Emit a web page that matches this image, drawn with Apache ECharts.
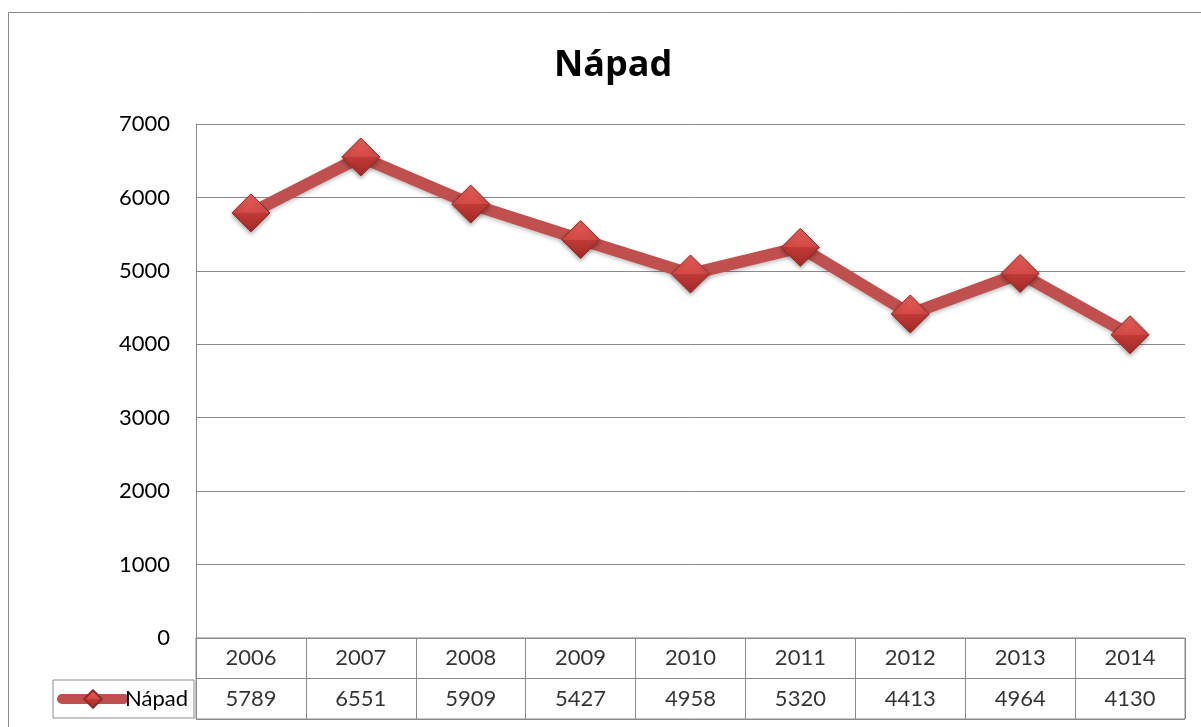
<!DOCTYPE html>
<html>
<head>
<meta charset="utf-8">
<script src="https://cdn.jsdelivr.net/npm/echarts@6/dist/echarts.min.js"></script>
<style>
  html, body { margin: 0; padding: 0; background: #fff; }
  #main { width: 1201px; height: 727px; }
</style>
</head>
<body>
<div id="main"></div>
<script>
// data
const years = ['2006', '2007', '2008', '2009', '2010', '2011', '2012', '2013', '2014'];
const napad = [5789, 6551, 5909, 5427, 4958, 5320, 4413, 4964, 4130];
const yTicks = [0, 1000, 2000, 3000, 4000, 5000, 6000, 7000];

const chart = echarts.init(document.getElementById('main'));
const FONT = 'Lato, "Open Sans", sans-serif';
const GRID_C = '#8a8a8a';

// diamond fill like the excel 3d marker
const diamondFill = new echarts.graphic.LinearGradient(0, 0, 0, 1, [
  { offset: 0, color: '#ea5f5a' },
  { offset: 0.5, color: '#d24a45' },
  { offset: 0.5, color: '#c03a36' },
  { offset: 1, color: '#a32a27' }
]);

const option = {
  backgroundColor: '#ffffff',
  animation: false,
  title: {
    text: 'Nápad',
    left: 549,
    top: 43,
    textStyle: { fontFamily: '"Open Sans", sans-serif', fontWeight: 'bold', fontSize: 36, color: '#000' }
  },
  legend: {
    data: ['Nápad'],
    left: 53,
    top: 680,
    orient: 'horizontal',
    borderColor: GRID_C,
    borderWidth: 1,
    padding: [8, 6, 8, 4],
    itemWidth: 62,
    itemHeight: 22,
    itemGap: 0,
    lineStyle: { width: 10, cap: 'round', color: '#c0504d' },
    textStyle: { fontFamily: FONT, fontSize: 22, color: '#000', padding: [0, 0, 0, -4] }
  },
  grid: [
    { left: 196, right: 16, top: 124, bottom: 89 },
    { left: 196, right: 16, top: 638, height: 81, show: true, borderColor: GRID_C, borderWidth: 1 }
  ],
  xAxis: [
    {
      gridIndex: 0,
      type: 'category',
      data: years,
      boundaryGap: true,
      axisLine: { lineStyle: { color: GRID_C } },
      axisTick: { show: false },
      axisLabel: { show: false }
    },
    {
      gridIndex: 1,
      type: 'category',
      data: years,
      boundaryGap: true,
      axisLine: { show: false },
      axisTick: { show: false },
      axisLabel: { show: false },
      splitLine: { show: true, lineStyle: { color: GRID_C } }
    }
  ],
  yAxis: [
    {
      gridIndex: 0,
      type: 'value',
      min: yTicks[0],
      max: yTicks[yTicks.length - 1],
      interval: 1000,
      axisLine: { show: true, lineStyle: { color: GRID_C } },
      axisTick: { show: false },
      axisLabel: { fontFamily: FONT, fontSize: 22, color: '#000', margin: 26, formatter: (v) => String(v) },
      splitLine: { lineStyle: { color: GRID_C, width: 1 } }
    },
    {
      gridIndex: 1,
      type: 'category',
      data: ['Nápad', 'rok'],
      boundaryGap: true,
      axisLine: { show: false },
      axisTick: { show: false },
      axisLabel: { show: false },
      splitLine: { show: true, lineStyle: { color: GRID_C } }
    }
  ],
  series: [
    {
      name: 'Nápad',
      type: 'line',
      xAxisIndex: 0,
      yAxisIndex: 0,
      data: napad,
      symbol: 'diamond',
      symbolSize: 38,
      lineStyle: {
        color: '#c0504d',
        width: 12,
        shadowColor: 'rgba(0,0,0,0.25)',
        shadowBlur: 4,
        shadowOffsetY: 2
      },
      itemStyle: {
        color: diamondFill,
        borderColor: '#8e2c29',
        borderWidth: 1,
        shadowColor: 'rgba(0,0,0,0.35)',
        shadowBlur: 4,
        shadowOffsetY: 2
      }
    },
    {
      // table row: years
      name: 'rok',
      type: 'scatter',
      xAxisIndex: 1,
      yAxisIndex: 1,
      symbolSize: 0,
      silent: true,
      data: years.map((y) => [y, 'rok', y]),
      label: {
        show: true,
        position: 'inside',
        formatter: (p) => p.value[2],
        fontFamily: FONT, fontSize: 22, color: '#000'
      }
    },
    {
      // table row: values
      name: 'hodnoty',
      type: 'scatter',
      xAxisIndex: 1,
      yAxisIndex: 1,
      symbolSize: 0,
      silent: true,
      data: years.map((y, i) => [y, 'Nápad', napad[i]]),
      label: {
        show: true,
        position: 'inside',
        formatter: (p) => p.value[2],
        fontFamily: FONT, fontSize: 22, color: '#000'
      }
    }
  ],
  graphic: [
    {
      // outer chart frame
      type: 'rect',
      shape: { x: 8.5, y: 12.5, width: 1200, height: 720 },
      style: { fill: 'none', stroke: GRID_C, lineWidth: 1 },
      silent: true
    }
  ]
};

chart.setOption(option);
</script>
</body>
</html>
